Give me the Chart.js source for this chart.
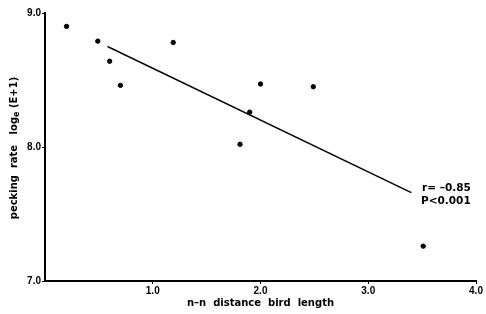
<!DOCTYPE html>
<html>
<head>
<meta charset="utf-8">
<script src="https://cdn.jsdelivr.net/npm/chart.js@4/dist/chart.umd.min.js"></script>
<style>
  html, body { margin: 0; padding: 0; background: #fff; overflow: hidden; }
  canvas { display: block; }
</style>
</head>
<body>
<canvas id="pecking" width="486" height="314"></canvas>
<script>
// n-n distance (bird lengths) vs pecking rate log_e(E+1)
var distance = [0.20, 0.49, 0.60, 0.70, 1.19, 1.81, 1.90, 2.00, 2.49, 3.51];
var pecking = [8.90, 8.79, 8.64, 8.46, 8.78, 8.02, 8.26, 8.47, 8.45, 7.26];

// regression line end points
var fitX = [0.58, 3.40];
var fitY = [8.75, 7.66];

var xTicks = [1, 2, 3, 4];
var yTicks = [7, 8, 9];
var statLines = ['r= \u20130.85', 'P<0.001'];

var FONT = '"Liberation Sans", Arial, sans-serif';
var WIDE = '"DejaVu Sans", sans-serif';

var points = distance.map(function (d, i) { return { x: d, y: pecking[i] }; });
var fit = fitX.map(function (d, i) { return { x: d, y: fitY[i] }; });

// y title with subscript e, plus the r / P note
var textPlugin = {
    id: 'extraText',
    afterDraw: function (chart) {
        var ctx = chart.ctx;
        ctx.save();
        ctx.fillStyle = '#000';
        ctx.textBaseline = 'middle';

        // y axis title, rotated
        ctx.translate(14, 148);
        ctx.rotate(-Math.PI / 2);
        var parts = [
            { t: 'pecking  rate   log', size: 10, dy: 0 },
            { t: 'e', size: 8, dy: 3 },
            { t: ' (E+1)', size: 10, dy: 0 }
        ];
        var total = 0;
        parts.forEach(function (p) {
            ctx.font = 'bold ' + p.size + 'px ' + WIDE;
            p.w = ctx.measureText(p.t).width;
            total += p.w;
        });
        var x = -total / 2;
        ctx.textAlign = 'left';
        parts.forEach(function (p) {
            ctx.font = 'bold ' + p.size + 'px ' + WIDE;
            ctx.fillText(p.t, x, p.dy);
            x += p.w;
        });
        ctx.restore();

        // stats note
        ctx.save();
        ctx.fillStyle = '#000';
        ctx.font = 'bold 10.5px ' + WIDE;
        ctx.textAlign = 'left';
        ctx.textBaseline = 'middle';
        ctx.fillText(statLines[0], 422, 188);
        ctx.fillText(statLines[1], 421, 201);
        ctx.restore();
    }
};

var ctx = document.getElementById('pecking').getContext('2d');
var chart = new Chart(ctx, {
    type: 'scatter',
    data: {
        datasets: [{
            label: 'birds',
            data: points,
            backgroundColor: '#000',
            borderColor: '#000',
            pointRadius: 2.2,
            pointHoverRadius: 2.2
        }, {
            label: 'fit',
            data: fit,
            showLine: true,
            borderColor: '#000',
            borderWidth: 1.4,
            pointRadius: 0,
            fill: false
        }]
    },
    plugins: [textPlugin],
    options: {
        responsive: false,
        animation: false,
        layout: { padding: { top: 13, right: 10, left: 0, bottom: 0 } },
        plugins: {
            legend: { display: false },
            tooltip: { enabled: false }
        },
        scales: {
            x: {
                type: 'linear',
                min: 0,
                max: 4,
                afterBuildTicks: function (axis) {
                    axis.ticks = xTicks.map(function (v) { return { value: v }; });
                },
                afterFit: function (axis) { axis.height = 33; },
                border: { display: true, color: '#000', width: 2 },
                grid: { drawOnChartArea: false, color: '#000', tickLength: 3, lineWidth: 1 },
                ticks: {
                    color: '#000',
                    padding: 1,
                    maxRotation: 0,
                    font: { family: FONT, size: 10, weight: 'bold' },
                    callback: function (v) { return v.toFixed(1); }
                },
                title: {
                    display: true,
                    text: 'n\u2013n  distance  bird  length',
                    color: '#000',
                    padding: { top: 1, bottom: 5 },
                    font: { family: WIDE, size: 10, weight: 'bold' }
                }
            },
            y: {
                type: 'linear',
                min: 7,
                max: 9,
                afterBuildTicks: function (axis) {
                    axis.ticks = yTicks.map(function (v) { return { value: v }; });
                },
                afterFit: function (axis) { axis.width = 45; },
                border: { display: true, color: '#000', width: 2 },
                grid: { drawOnChartArea: false, color: '#000', tickLength: 3, lineWidth: 1 },
                ticks: {
                    color: '#000',
                    padding: 1,
                    font: { family: FONT, size: 10, weight: 'bold' },
                    callback: function (v) { return v.toFixed(1); }
                }
            }
        }
    }
});
</script>
</body>
</html>
